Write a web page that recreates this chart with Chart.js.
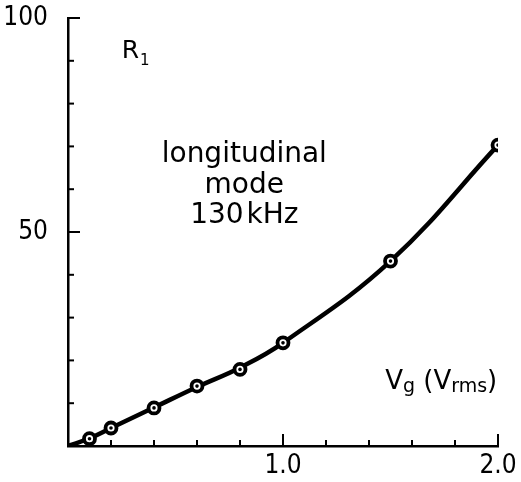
<!DOCTYPE html>
<html>
<head>
<meta charset="utf-8">
<script src="https://cdn.jsdelivr.net/npm/chart.js@4.4.1/dist/chart.umd.min.js"></script>
<style>
  body { margin: 0; background: #fff; }
  #wrap { width: 521px; height: 482px; }
</style>
</head>
<body>
<div id="wrap"><canvas id="r1-chart"></canvas></div>
<script>
// measured points (Vg in Vrms, R1)
const vgValues = [0.1, 0.2, 0.4, 0.6, 0.8, 1.0, 1.5, 2.0];
const r1Values = [1.7, 4.2, 8.9, 14.0, 17.9, 24.1, 43.2, 70.3];

// drawn fit curve (starts at origin)
const curveVg = [0, 0.1, 0.2, 0.4, 0.6, 0.8, 1.0, 1.5, 2.0];
const curveR1 = [0, 1.8, 4.2, 9.0, 13.8, 18.3, 24.1, 43.2, 70.3];

const xLabelled = [1.0, 2.0];
const yLabelled = [50, 100];

const black = '#000';
const textFont = '"DejaVu Sans", sans-serif';
const tickFont = '"DejaVu Sans Condensed", "DejaVu Sans", sans-serif';

function toXY(xs, ys) {
    return xs.map(function(x, i) { return {x: x, y: ys[i]}; });
}
function isLabelled(v, list) {
    return list.some(function(m) { return Math.abs(m - v) < 1e-6; });
}
function noScalePadding(scale) {
    scale.paddingTop = 0;
    scale.paddingBottom = 0;
    scale.paddingLeft = 0;
    scale.paddingRight = 0;
}

// ticks pointing into the plot, longer ones at the labelled values
const inwardTicks = {
    id: 'inwardTicks',
    beforeDatasetsDraw(chart) {
        const ctx = chart.ctx;
        const xs = chart.scales.x, ys = chart.scales.y;
        const area = chart.chartArea;
        ctx.save();
        ctx.strokeStyle = black;
        ctx.lineWidth = 2;
        xs.ticks.forEach(function(t) {
            if (t.value <= 0) return;
            const px = xs.getPixelForValue(t.value);
            const len = isLabelled(t.value, xLabelled) ? 12 : 6;
            ctx.beginPath();
            ctx.moveTo(px, area.bottom);
            ctx.lineTo(px, area.bottom - len);
            ctx.stroke();
        });
        ys.ticks.forEach(function(t) {
            if (t.value <= 0) return;
            const py = ys.getPixelForValue(t.value);
            const len = isLabelled(t.value, yLabelled) ? 12 : 6;
            ctx.beginPath();
            ctx.moveTo(area.left, py);
            ctx.lineTo(area.left + len, py);
            ctx.stroke();
        });
        ctx.restore();
    }
};

// text inside the plot
const plotTexts = {
    id: 'plotTexts',
    afterDraw(chart) {
        const ctx = chart.ctx;
        const xs = chart.scales.x, ys = chart.scales.y;
        ctx.save();
        ctx.fillStyle = black;
        ctx.textBaseline = 'alphabetic';

        // R1
        let x = xs.getPixelForValue(0.25), y = ys.getPixelForValue(90.6);
        ctx.textAlign = 'left';
        ctx.font = '25px ' + textFont;
        ctx.fillText('R', x, y);
        x += ctx.measureText('R').width + 1;
        ctx.font = '15px ' + textFont;
        ctx.fillText('1', x, y + 7);

        // mode caption
        ctx.textAlign = 'center';
        ctx.font = '28px ' + textFont;
        const cx = xs.getPixelForValue(0.82);
        ctx.fillText('longitudinal', cx, ys.getPixelForValue(66.4));
        ctx.fillText('mode', cx, ys.getPixelForValue(59.1));
        ctx.fillText('130\u200AkHz', cx, ys.getPixelForValue(52.0));

        // axis title
        ctx.textAlign = 'left';
        x = xs.getPixelForValue(1.475);
        y = ys.getPixelForValue(13.4);
        const parts = [
            ['V', 26, 0], ['g', 19, 3], [' (', 26, 0], ['V', 26, 0], ['rms', 19, 3], [')', 26, 0]
        ];
        parts.forEach(function(p) {
            ctx.font = p[1] + 'px ' + textFont;
            ctx.fillText(p[0], x, y + p[2]);
            x += ctx.measureText(p[0]).width;
        });
        ctx.restore();
    }
};

new Chart(document.getElementById('r1-chart'), {
    type: 'line',
    data: {
        datasets: [
            {
                label: 'dots',
                data: toXY(vgValues, r1Values),
                showLine: false,
                pointRadius: 1.8,
                pointBackgroundColor: black,
                pointBorderWidth: 0,
                order: 0
            },
            {
                label: 'points',
                data: toXY(vgValues, r1Values),
                showLine: false,
                pointRadius: 5.5,
                pointBorderWidth: 3.8,
                pointBorderColor: black,
                pointBackgroundColor: '#fff',
                order: 1
            },
            {
                label: 'curve',
                data: toXY(curveVg, curveR1),
                borderColor: black,
                borderWidth: 4.5,
                pointRadius: 0,
                tension: 0.4,
                order: 2
            }
        ]
    },
    options: {
        responsive: true,
        maintainAspectRatio: false,
        animation: false,
        layout: {
            padding: {top: 18, right: 23, left: 0, bottom: 0}
        },
        plugins: {
            legend: { display: false },
            tooltip: { enabled: false }
        },
        scales: {
            x: {
                type: 'linear',
                min: 0,
                max: 2,
                grid: { display: false },
                border: { display: true, color: black, width: 2.5 },
                afterFit: function(scale) { scale.height = 36; noScalePadding(scale); },
                ticks: {
                    stepSize: 0.2,
                    autoSkip: false,
                    maxRotation: 0,
                    padding: -3,
                    color: black,
                    font: { family: tickFont, size: 26 },
                    callback: function(value) {
                        return isLabelled(value, xLabelled) ? value.toFixed(1) : '';
                    }
                }
            },
            y: {
                min: 0,
                max: 100,
                grid: { display: false },
                border: { display: true, color: black, width: 2.5 },
                afterFit: function(scale) { scale.width = 68; noScalePadding(scale); },
                ticks: {
                    stepSize: 10,
                    autoSkip: false,
                    padding: 12,
                    color: black,
                    font: { family: tickFont, size: 26 },
                    callback: function(value) {
                        return isLabelled(value, yLabelled) ? String(value) : '';
                    }
                }
            }
        }
    },
    plugins: [inwardTicks, plotTexts]
});
</script>
</body>
</html>
